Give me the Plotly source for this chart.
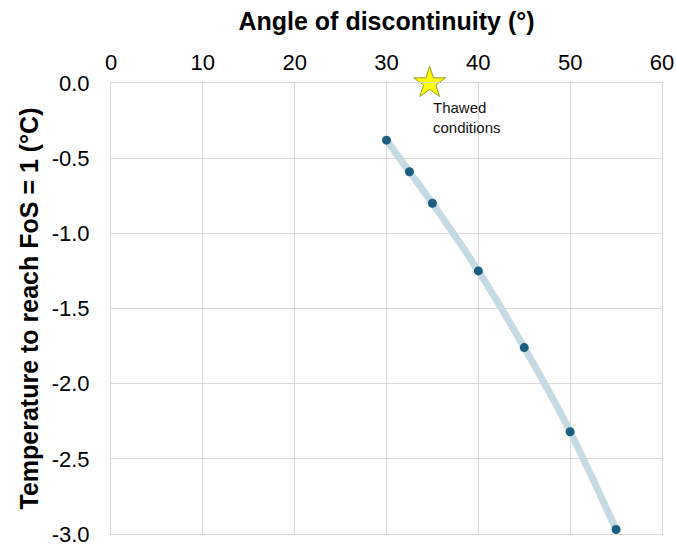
import plotly.graph_objects as go

angles = [30, 32.5, 35, 40, 45, 50, 55]
temps = [-0.38, -0.59, -0.80, -1.25, -1.76, -2.32, -2.97]
thawed_angle = [34.7]
thawed_temp = [0.0]
thawed_label = "Thawed<br>conditions"

x_ticks = [0, 10, 20, 30, 40, 50, 60]
y_ticks = [0, -0.5, -1.0, -1.5, -2.0, -2.5, -3.0]
y_tick_text = ["0.0", "-0.5", "-1.0", "-1.5", "-2.0", "-2.5", "-3.0"]

FONT = "Liberation Sans, Arial, sans-serif"

fig = go.Figure()
fig.add_trace(go.Scatter(
    x=angles, y=temps, mode="lines",
    line=dict(color="#c6dae3", width=7, shape="spline", smoothing=0.8),
    hoverinfo="skip", showlegend=False,
))
fig.add_trace(go.Scatter(
    x=angles, y=temps, mode="markers",
    marker=dict(color="#1b5e82", size=9),
    showlegend=False,
))
fig.add_trace(go.Scatter(
    x=thawed_angle, y=thawed_temp, mode="markers",
    marker=dict(symbol="star", size=24, color="#ffff00",
                line=dict(color="#9a9a30", width=1)),
    cliponaxis=False, showlegend=False,
))
fig.add_annotation(
    x=thawed_angle[0], y=thawed_temp[0], text=thawed_label,
    showarrow=False, xanchor="left", yanchor="top", align="left",
    xshift=1, yshift=-14,
    font=dict(family=FONT, size=15, color="#111111"),
)

fig.update_layout(
    width=676, height=546,
    margin=dict(l=111, r=14, t=83, b=12, autoexpand=False),
    paper_bgcolor="white", plot_bgcolor="white",
    font=dict(family=FONT, color="#000000"),
)
fig.update_xaxes(
    side="top", range=[0, 60], tickvals=x_ticks,
    tickfont=dict(size=22, family=FONT),
    title=dict(text="<b>Angle of discontinuity (°)</b>", font=dict(size=25, family=FONT), standoff=12),
    showgrid=True, gridcolor="#d9d9d9", gridwidth=1,
    showline=True, linecolor="#d9d9d9", mirror=True,
    ticks="outside", ticklen=3, tickcolor="rgba(0,0,0,0)",
    ticklabeloverflow="allow", automargin=False,
    zeroline=False,
)
fig.update_yaxes(
    range=[-3, 0], tickvals=y_ticks, ticktext=y_tick_text,
    tickfont=dict(size=22, family=FONT),
    title=dict(text="<b>Temperature to reach FoS = 1 (°C)</b>", font=dict(size=25, family=FONT), standoff=5),
    showgrid=True, gridcolor="#d9d9d9", gridwidth=1,
    showline=True, linecolor="#d9d9d9", mirror=True,
    ticks="outside", ticklen=16, tickcolor="rgba(0,0,0,0)",
    ticklabeloverflow="allow", automargin=False,
    zeroline=False,
)

fig.write_html("out.html")
